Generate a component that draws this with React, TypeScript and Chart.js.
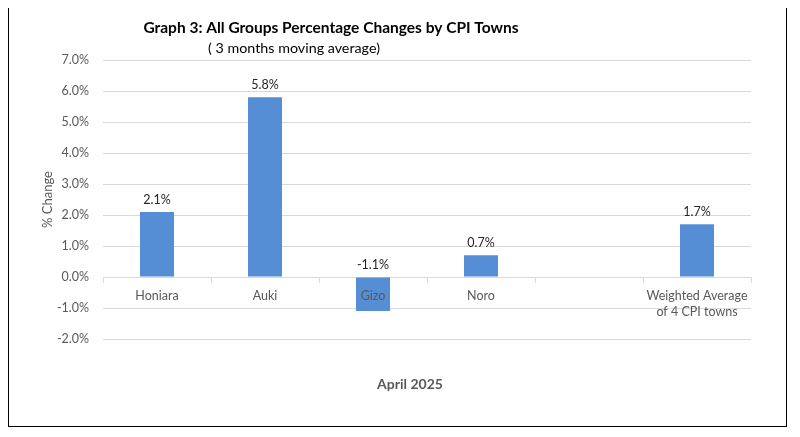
import { useEffect, useRef } from "react"
import { Chart, registerables } from "chart.js"

Chart.register(...registerables)

const towns = ["Honiara", "Auki", "Gizo", "Noro", "", ["Weighted Average", "of 4 CPI towns"]]
const changes = [2.1, 5.8, -1.1, 0.7, null, 1.7]
const yTicks = [-2, -1, 0, 1, 2, 3, 4, 5, 6, 7]

const titleText = "Graph 3: All Groups Percentage Changes by CPI Towns"
const subtitleText = "( 3 months moving average)"
const xTitleText = "April 2025"

// etiquetas sobre as barras e títulos
const labelsPlugin = {
  id: "labelsPlugin",
  afterDraw(chart: any) {
    const ctx = chart.ctx
    const area = chart.chartArea
    const yScale = chart.scales.y
    const meta = chart.getDatasetMeta(0)
    ctx.save()
    ctx.fillStyle = "#262626"
    ctx.font = "12.5px Lato"
    ctx.textAlign = "center"
    ctx.textBaseline = "bottom"
    meta.data.forEach((bar: any, i: number) => {
      const v = changes[i]
      if (v === null || v === undefined) return
      const y = yScale.getPixelForValue(Math.max(v, 0)) - 6
      ctx.fillText(v.toFixed(1) + "%", bar.x, y)
    })

    ctx.textBaseline = "middle"
    ctx.fillStyle = "#000000"
    ctx.font = "bold 15.5px Lato"
    ctx.fillText(titleText, area.left + 228, 21)
    ctx.font = "14.3px Lato"
    ctx.fillText(subtitleText, area.left + 191, 41)

    ctx.fillStyle = "#595959"
    ctx.font = "bold 14px Lato"
    ctx.fillText(xTitleText, area.left + 307, area.bottom + 45)
    ctx.restore()
  },
}

function CpiTownsChart() {
  const chartRef = useRef<HTMLCanvasElement>(null)
  const chartInstance = useRef<Chart | null>(null)

  useEffect(() => {
    if (!chartRef.current) return
    if (chartInstance.current) chartInstance.current.destroy()
    const ctx = chartRef.current.getContext("2d")
    if (!ctx) return

    Chart.defaults.font.family = "Lato"

    chartInstance.current = new Chart(ctx, {
      type: "bar",
      data: {
        labels: towns as any,
        datasets: [
          {
            data: changes as any,
            backgroundColor: "#558ed5",
            barPercentage: 0.315,
            categoryPercentage: 1,
          },
        ],
      },
      options: {
        animation: false,
        responsive: true,
        maintainAspectRatio: false,
        layout: { padding: { left: 27, top: 53, right: 35, bottom: 87 } },
        plugins: {
          legend: { display: false },
          tooltip: { enabled: false },
          title: { display: false },
        },
        scales: {
          x: {
            position: { y: 0 } as any,
            grid: {
              drawOnChartArea: false,
              drawTicks: true,
              tickLength: 5,
              color: "#d9d9d9",
            },
            border: { display: true, color: "#d9d9d9" },
            ticks: {
              z: 1,
              color: "#595959",
              font: { size: 12.5, lineHeight: 1.3 },
              padding: 6,
              maxRotation: 0,
              autoSkip: false,
            },
          },
          y: {
            min: yTicks[0],
            max: yTicks[yTicks.length - 1],
            afterBuildTicks: (scale: any) => {
              scale.ticks = yTicks.map((v) => ({ value: v }))
            },
            afterFit: (scale: any) => {
              scale.width = 67
            },
            grid: { color: "#d9d9d9", drawTicks: false },
            border: { display: false },
            ticks: {
              color: "#595959",
              font: { size: 12.5 },
              padding: 14,
              callback: (v: any) => Number(v).toFixed(1) + "%",
            },
            title: {
              display: true,
              text: "% Change",
              color: "#595959",
              font: { size: 13 },
            },
          },
        },
      },
      plugins: [labelsPlugin],
    })

    return () => {
      if (chartInstance.current) {
        chartInstance.current.destroy()
        chartInstance.current = null
      }
    }
  }, [])

  return (
    <div
      style={{
        width: 779,
        height: 421,
        marginTop: -2,
        border: "1px solid #000",
        boxSizing: "border-box",
        position: "relative",
        background: "#fff",
      }}
    >
      <canvas ref={chartRef} />
    </div>
  )
}

export default function App() {
  return <CpiTownsChart />
}
